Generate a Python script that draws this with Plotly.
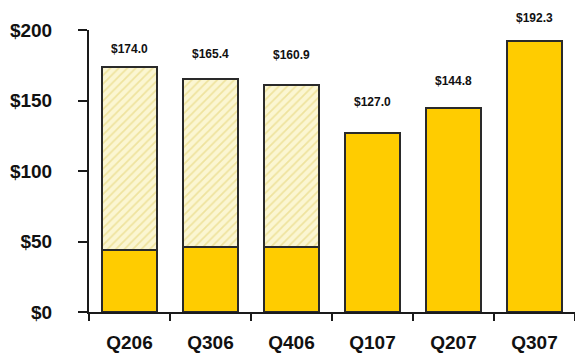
import plotly.graph_objects as go

quarters = ["Q206", "Q306", "Q406", "Q107", "Q207", "Q307"]
totals = [174.0, 165.4, 160.9, 127.0, 144.8, 192.3]
base_values = [44.0, 46.3, 46.3, 127.0, 144.8, 192.3]
label_texts = ["$174.0", "$165.4", "$160.9", "$127.0", "$144.8", "$192.3"]
y_tick_vals = [0, 50, 100, 150, 200]
y_tick_text = ["$0", "$50", "$100", "$150", "$200"]

# style: pixel offsets of labels above bar tops
label_shift = [18, 25, 30, 31, 27, 23]

top_values = [round(t - b, 1) if t - b > 0.05 else None for t, b in zip(totals, base_values)]

fig = go.Figure()
fig.add_trace(go.Bar(
    x=quarters, y=base_values,
    marker=dict(color="#FFCC00", line=dict(color="#2a2a2a", width=2)),
    hoverinfo="skip",
))
fig.add_trace(go.Bar(
    x=quarters, y=top_values,
    marker=dict(color="#FBF6CF", line=dict(color="#2a2a2a", width=2),
                pattern=dict(shape="/", fgcolor="#E2D06A", bgcolor="#FBF6D2", size=6, solidity=0.3)),
    hoverinfo="skip",
))

for q, t, txt, s in zip(quarters, totals, label_texts, label_shift):
    fig.add_annotation(x=q, y=t, text=txt, showarrow=False, yshift=s,
                       yanchor="middle", font=dict(size=12, color="#111111",
                       family="Liberation Sans, Arial, sans-serif", weight="bold"))

fig.update_layout(
    width=575, height=358,
    margin=dict(l=89, r=0, t=30, b=46),
    barmode="stack", bargap=0.31,
    showlegend=False,
    plot_bgcolor="white", paper_bgcolor="white",
    font=dict(family="Liberation Sans, Arial, sans-serif", color="#111111"),
)
fig.update_xaxes(
    showline=True, linecolor="#1a1a1a", linewidth=2,
    ticks="outside", tickson="boundaries", ticklen=7, tickcolor="#1a1a1a", tickwidth=2,
    tickfont=dict(size=19, weight="bold"), ticklabelstandoff=12,
    showgrid=False, fixedrange=True,
)
fig.update_yaxes(
    range=[0, 200], tickvals=y_tick_vals, ticktext=y_tick_text,
    showline=True, linecolor="#1a1a1a", linewidth=2,
    ticks="outside", ticklen=9, tickcolor="#1a1a1a", tickwidth=2,
    tickfont=dict(size=19, weight="bold"), ticklabelstandoff=22,
    showgrid=False, zeroline=False, fixedrange=True,
)

fig.write_html("out.html")
